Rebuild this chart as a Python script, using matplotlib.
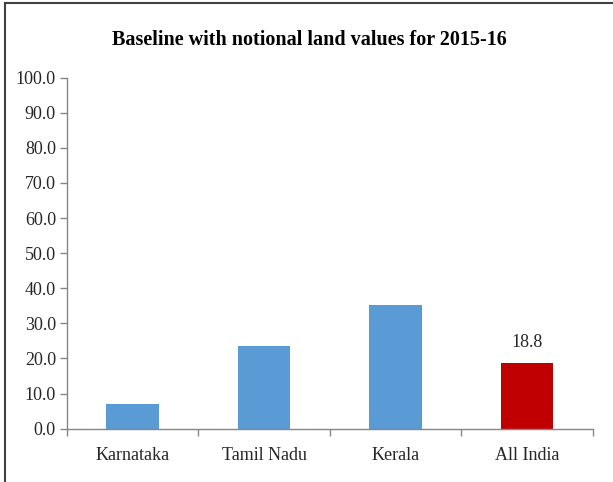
import matplotlib.pyplot as plt
from matplotlib.lines import Line2D

# data
categories = ['Karnataka', 'Tamil Nadu', 'Kerala', 'All India']
values = [6.9, 23.6, 35.3, 18.8]
colors = ['#5B9BD5', '#5B9BD5', '#5B9BD5', '#C00000']
yticks = [0, 10, 20, 30, 40, 50, 60, 70, 80, 90, 100]

plt.rcParams['font.family'] = ['Liberation Serif', 'DejaVu Serif']

fig = plt.figure(figsize=(6.13, 4.82), dpi=100)
ax = fig.add_axes([0.1093, 0.1106, 0.8577, 0.7284])

x = range(len(categories))
ax.bar(x, values, width=0.4, color=colors, zorder=2)

# label only the All India bar
ax.text(3, values[3] + 3.3, f'{values[3]:.1f}', ha='center', va='bottom',
        fontsize=13, color='#262626')

ax.set_xlim(-0.5, 3.5)
ax.set_ylim(0, 100)
ax.set_yticks(yticks)
ax.set_yticklabels([f'{v:.1f}' for v in yticks], fontsize=13, color='#262626')

# category labels, ticks at boundaries
ax.set_xticks([i + 0.5 for i in range(-1, 4)])
ax.set_xticklabels([])
ax.tick_params(axis='x', length=5, direction='out', color='#868686', width=1)
ax.tick_params(axis='y', length=5, direction='out', color='#868686', width=1, pad=3)
for i, c in enumerate(categories):
    ax.text(i, -5.3, c, ha='center', va='top', fontsize=13, color='#262626')

for s in ['top', 'right']:
    ax.spines[s].set_visible(False)
for s in ['left', 'bottom']:
    ax.spines[s].set_color('#868686')
    ax.spines[s].set_linewidth(1)

fig.text(0.505, 0.918, 'Baseline with notional land values for 2015-16',
         ha='center', va='center', fontsize=14.5, fontweight='bold', color='black')

# chart frame (left and top edges)
fig.add_artist(Line2D([0.008, 0.008], [0.0, 0.993], transform=fig.transFigure,
                      color='#404040', linewidth=1.5))
fig.add_artist(Line2D([0.008, 1.0], [0.993, 0.993], transform=fig.transFigure,
                      color='#404040', linewidth=1.5))

fig.savefig('out.png', dpi=100)
